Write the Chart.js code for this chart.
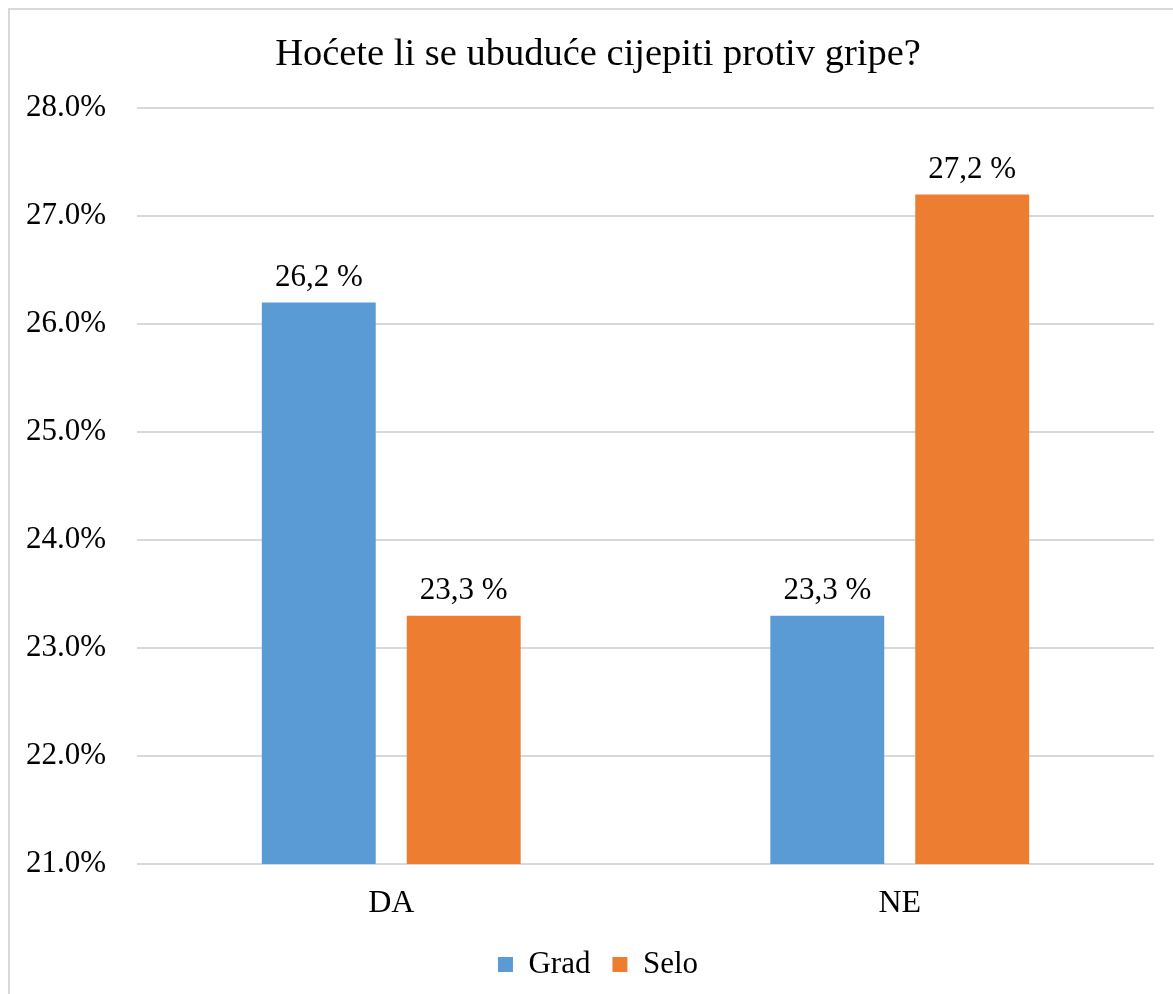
<!DOCTYPE html>
<html>
<head>
<meta charset="utf-8">
<script src="https://cdn.jsdelivr.net/npm/chart.js@4.4.1/dist/chart.umd.min.js"></script>
<style>
  html, body { margin: 0; padding: 0; background: #fff; overflow: hidden; }
  #okvir {
    position: absolute; left: 8px; top: 8px;
    width: 1190px; height: 990px;
    border-top: 2px solid #d9d9d9; border-left: 2px solid #d9d9d9;
    background: #fff;
  }
  #okvir canvas { display: block; }
</style>
</head>
<body>
<div id="okvir"><canvas id="grafikon" width="1180" height="984"></canvas></div>
<script>
const kategorije = ['DA', 'NE'];
const grad = [26.2, 23.3];
const selo = [23.3, 27.2];
const naslov = 'Hoćete li se ubuduće cijepiti protiv gripe?';

const font = 'Liberation Serif, Times New Roman, serif';

// oznake vrijednosti iznad stupaca
const oznake = {
  id: 'oznake',
  afterLayout(chart) {
    // naslov i legenda su u originalu malo desno od sredine
    [chart.titleBlock, chart.legend].forEach(b => { b.left += 8; b.right += 8; });
  },
  afterDatasetsDraw(chart) {
    const ctx = chart.ctx;
    ctx.save();
    ctx.fillStyle = '#000';
    ctx.font = '31px ' + font;
    ctx.textAlign = 'center';
    ctx.textBaseline = 'alphabetic';
    chart.data.datasets.forEach((ds, i) => {
      chart.getDatasetMeta(i).data.forEach((bar, j) => {
        const txt = ds.data[j].toFixed(1).replace('.', ',') + ' %';
        ctx.fillText(txt, bar.x, bar.y - 17);
      });
    });
    ctx.restore();
  }
};

new Chart(document.getElementById('grafikon'), {
  type: 'bar',
  data: {
    labels: kategorije,
    datasets: [
      { label: 'Grad', data: grad, backgroundColor: '#5B9BD5' },
      { label: 'Selo', data: selo, backgroundColor: '#ED7D31' }
    ]
  },
  options: {
    responsive: false,
    animation: false,
    categoryPercentage: 0.57,
    barPercentage: 0.786,
    layout: { padding: { left: 16, right: 36, top: 18, bottom: 4 } },
    plugins: {
      title: {
        display: true,
        text: naslov,
        color: '#000',
        font: { family: font, size: 38.5, weight: 'normal' },
        padding: { top: 4, bottom: 30 }
      },
      legend: {
        position: 'bottom',
        labels: {
          color: '#000',
          font: { family: font, size: 31 },
          boxWidth: 15,
          boxHeight: 15,
          padding: 22
        }
      },
      tooltip: { enabled: false }
    },
    scales: {
      x: {
        grid: { display: false, drawTicks: false },
        border: { display: false },
        ticks: { color: '#000', font: { family: font, size: 32 }, padding: 20 },
        afterFit(scale) { scale.height = 63; }
      },
      y: {
        min: 21,
        max: 28,
        grid: { color: '#d9d9d9', lineWidth: 2, drawTicks: false },
        border: { display: false },
        ticks: {
          stepSize: 1,
          color: '#000',
          padding: 31,
          font: { family: font, size: 31 },
          callback: v => v.toFixed(1) + '%'
        },
        afterFit(scale) { scale.width = 111; }
      }
    }
  },
  plugins: [oznake]
});
</script>
</body>
</html>
